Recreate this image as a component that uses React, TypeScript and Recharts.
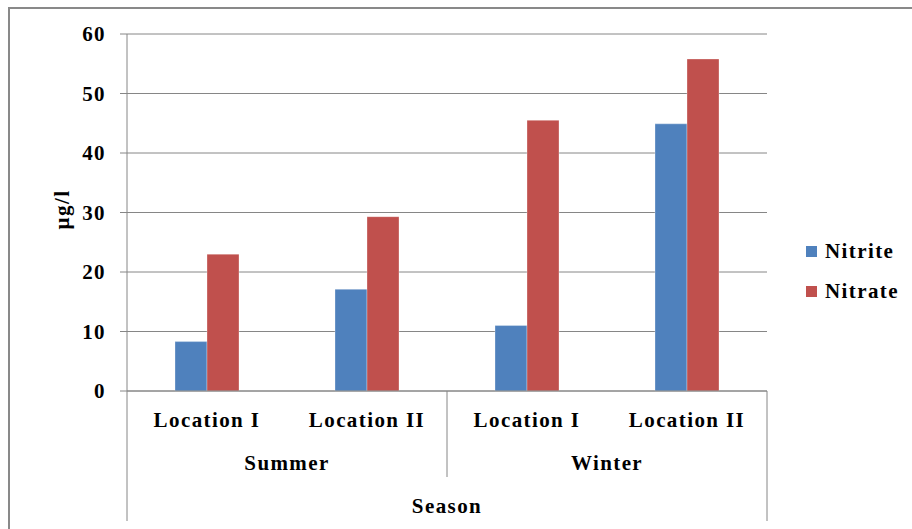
import { BarChart, Bar, XAxis, YAxis, CartesianGrid, Legend, Label } from "recharts";

const seasons = ["Summer", "Summer", "Winter", "Winter"];
const locations = ["Location I", "Location II", "Location I", "Location II"];
const nitrite = [8.3, 17.1, 11.0, 44.9];
const nitrate = [23.0, 29.3, 45.5, 55.8];
const yTicks = [0, 10, 20, 30, 40, 50, 60];

const seriesNames = ["Nitrite", "Nitrate"];
const seriesColors = ["#4F81BD", "#C0504D"];

const data = locations.map((location, i) => ({
  location,
  season: seasons[i],
  nitrite: nitrite[i],
  nitrate: nitrate[i],
}));

const GRID = "#868686";
const LOC_AXIS_H = 50;

const font = {
  fontFamily: '"Liberation Serif", "Times New Roman", serif',
  fontWeight: 700,
  fontSize: 21,
  letterSpacing: 1.4,
  fill: "#000",
};

function ValueTick({ x, y, payload }: any) {
  return (
    <text x={x} y={y} dy="0.35em" textAnchor="end" style={font}>
      {payload.value}
    </text>
  );
}

function LocationTick({ x, y, payload }: any) {
  return (
    <text x={x} y={y + 36} textAnchor="middle" style={font}>
      {payload.value}
    </text>
  );
}

// season labels plus the group divider lines hanging under the plot
function SeasonTick({ x, y, payload, index, width, visibleTicksCount }: any) {
  const half = width / visibleTicksCount / 2;
  const top = y - LOC_AXIS_H;
  const isFirst = index === 0;
  const isLast = index === visibleTicksCount - 1;
  return (
    <g>
      <line
        x1={x - half}
        x2={x - half}
        y1={top}
        y2={isFirst ? y + 80 : y + 36}
        stroke={GRID}
      />
      {isLast && (
        <line x1={x + half} x2={x + half} y1={top} y2={y + 80} stroke={GRID} />
      )}
      <text x={x} y={y + 29} textAnchor="middle" style={font}>
        {payload.value}
      </text>
    </g>
  );
}

function LegendBox({ payload }: any) {
  // keep series order instead of the alphabetical default
  const items = [...(payload || [])].sort(
    (a: any, b: any) => seriesNames.indexOf(a.value) - seriesNames.indexOf(b.value)
  );
  return (
    <div style={{ whiteSpace: "nowrap" }}>
      {items.map((entry: any, i: number) => (
        <div
          key={entry.value}
          style={{
            display: "flex",
            alignItems: "center",
            height: 22,
            marginTop: i === 0 ? 0 : 18,
          }}
        >
          <span
            style={{
              display: "inline-block",
              flexShrink: 0,
              width: 11,
              height: 11,
              background: seriesColors[seriesNames.indexOf(entry.value)],
              marginRight: 8,
            }}
          />
          <span
            style={{
              flexShrink: 0,
              fontFamily: font.fontFamily,
              fontWeight: 700,
              fontSize: 21,
              letterSpacing: 1.4,
              lineHeight: "22px",
              color: "#000",
            }}
          >
            {entry.value}
          </span>
        </div>
      ))}
    </div>
  );
}

export default function App() {
  return (
    <div>
      <div
        style={{
          position: "absolute",
          left: 8,
          top: 7,
          width: 904,
          height: 522,
          borderTop: "2px solid #898989",
          borderLeft: "2px solid #898989",
          boxSizing: "border-box",
        }}
      />
      <div style={{ position: "absolute", left: 0, top: 0 }}>
        <BarChart
          width={912}
          height={529}
          data={data}
          margin={{ top: 34, right: 145, bottom: 0, left: 0 }}
          barCategoryGap="30%"
          barGap={0}
        >
          <CartesianGrid xAxisId="loc" vertical={false} stroke={GRID} />
          <XAxis
            xAxisId="loc"
            dataKey="location"
            height={LOC_AXIS_H}
            tickLine={false}
            tickSize={0}
            tickMargin={0}
            axisLine={{ stroke: GRID }}
            tick={<LocationTick />}
            interval={0}
          />
          <XAxis
            xAxisId="season"
            dataKey="season"
            allowDuplicatedCategory={false}
            height={88}
            tickLine={false}
            tickSize={0}
            tickMargin={0}
            axisLine={false}
            tick={<SeasonTick />}
            interval={0}
          >
            <Label
              content={({ viewBox }: any) => (
                <text
                  x={viewBox.x + viewBox.width / 2}
                  y={viewBox.y + 72}
                  textAnchor="middle"
                  style={font}
                >
                  Season
                </text>
              )}
            />
          </XAxis>
          <YAxis
            width={127}
            domain={[0, 60]}
            ticks={yTicks}
            tickSize={7}
            tickMargin={14}
            tickLine={{ stroke: GRID }}
            axisLine={{ stroke: GRID }}
            tick={<ValueTick />}
          >
            <Label
              content={({ viewBox }: any) => {
                const cx = viewBox.x + 62;
                const cy = viewBox.y + viewBox.height / 2 - 3;
                return (
                  <text
                    x={cx}
                    y={cy}
                    dy="0.35em"
                    textAnchor="middle"
                    transform={`rotate(-90 ${cx} ${cy})`}
                    style={font}
                  >
                    µg/l
                  </text>
                );
              }}
            />
          </YAxis>
          <Legend
            layout="vertical"
            align="right"
            verticalAlign="middle"
            wrapperStyle={{
              position: "absolute",
              left: 806,
              top: 240,
              width: 0,
              height: 0,
              overflow: "visible",
            }}
            content={<LegendBox />}
          />
          <Bar
            xAxisId="loc"
            dataKey="nitrite"
            name={seriesNames[0]}
            fill={seriesColors[0]}
            stroke="rgba(255,255,255,0.3)"
            isAnimationActive={false}
          />
          <Bar
            xAxisId="loc"
            dataKey="nitrate"
            name={seriesNames[1]}
            fill={seriesColors[1]}
            stroke="rgba(255,255,255,0.3)"
            isAnimationActive={false}
          />
        </BarChart>
      </div>
    </div>
  );
}
